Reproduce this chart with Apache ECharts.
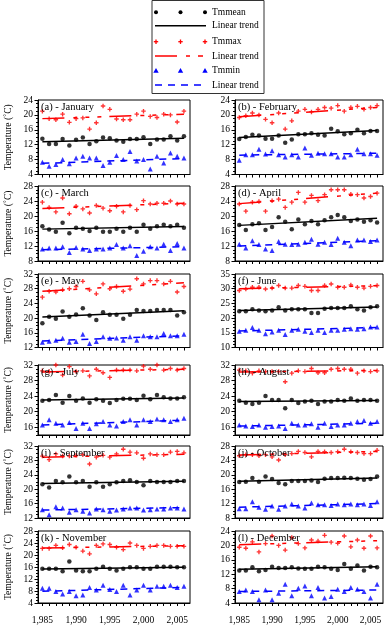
<!DOCTYPE html>
<html>
<head>
<meta charset="utf-8">
<title>Monthly temperature 1985-2006</title>
<script src="https://cdn.jsdelivr.net/npm/echarts@6/dist/echarts.min.js"></script>
<style>
html, body { margin: 0; padding: 0; background: #fff; }
#chart { width: 388px; height: 625px; }
</style>
</head>
<body>
<div id="chart"></div>
<script>
// years on the x axis
var years = [1985, 1986, 1987, 1988, 1989, 1990, 1991, 1992, 1993, 1994, 1995,
             1996, 1997, 1998, 1999, 2000, 2001, 2002, 2003, 2004, 2005, 2006];
var yearLabels = [1985, 1990, 1995, 2000, 2005];

// Tmmean / Tmmax / Tmmin per month (deg C)
var meanJan = [13.6,12.2,12.2,13.5,11.8,13.3,13.9,12.2,12.9,13.9,13.7,13.1,12.8,13.5,13.5,14.0,12.2,13.4,13.4,14.3,13.1,14.3];
var maxJan  = [21.0,19.0,18.7,20.2,18.0,19.0,19.2,16.2,17.9,22.4,21.5,18.9,18.7,18.7,20.2,21.0,19.6,19.3,20.2,20.0,18.1,21.0];
var minJan  = [7.3,6.2,6.7,8.0,6.9,8.4,8.9,8.4,8.4,6.4,7.3,9.1,8.0,10.2,7.6,8.0,5.5,8.9,7.1,9.8,8.9,8.4];

var meanFeb = [13.5,14.1,14.7,14.5,13.6,13.6,14.5,12.5,13.4,14.8,14.8,15.1,14.7,14.5,16.3,15.6,14.8,15.1,16.0,15.1,15.7,15.7];
var maxFeb  = [19.3,19.8,20.5,20.0,18.8,17.9,20.5,16.2,18.4,21.0,21.5,20.8,21.5,22.0,21.8,22.5,21.0,22.0,22.3,21.5,22.0,22.5];
var minFeb  = [7.8,9.3,9.3,10.8,9.5,10.4,9.3,8.7,9.3,8.7,11.1,9.2,9.7,9.6,9.6,8.7,8.7,9.3,10.8,9.6,9.6,9.2];

var meanMar = [17.3,16.4,15.8,18.2,15.4,16.9,16.6,16.0,16.9,15.8,15.8,16.6,15.8,16.9,15.8,17.7,16.6,17.3,17.7,17.3,17.7,16.9];
var maxMar  = [23.7,22.3,21.1,24.8,20.6,22.6,21.9,20.8,22.8,22.1,21.4,22.6,21.1,22.8,21.7,24.1,23.2,23.4,23.4,24.0,23.2,23.2];
var minMar  = [11.2,11.5,11.5,11.8,10.3,11.6,11.2,10.8,11.2,11.2,11.5,12.4,11.5,12.1,9.5,10.6,11.8,11.5,12.5,10.8,12.7,11.5];

var meanApr = [17.6,16.3,17.8,18.1,16.3,17.1,19.7,18.5,16.5,19.1,17.8,18.7,17.8,18.9,19.7,20.3,19.7,18.7,19.1,18.5,18.9,18.3];
var maxApr  = [23.2,21.3,23.7,23.9,21.3,24.1,24.5,22.3,23.7,26.3,23.7,25.5,24.1,25.7,27.0,27.0,27.0,25.8,25.7,24.8,25.2,26.1];
var minApr  = [12.5,11.5,13.4,12.4,11.2,10.8,13.2,12.5,12.4,12.5,13.0,13.8,12.5,13.0,12.4,14.1,13.0,12.1,13.6,13.6,13.2,13.6];

var meanMay = [18.6,20.4,19.8,21.8,20.4,21.0,22.7,20.7,19.5,21.6,20.9,20.9,19.8,20.9,22.2,21.9,21.9,22.2,22.2,22.2,20.7,21.6];
var maxMay  = [25.7,27.3,27.1,27.7,28.0,28.6,30.0,27.7,26.6,29.3,28.0,28.6,27.3,27.9,30.7,29.3,30.2,30.2,29.3,30.0,27.1,28.6];
var minMay  = [13.4,13.7,14.0,14.5,13.4,13.6,15.6,13.1,13.6,14.9,14.5,14.6,14.0,14.9,14.0,15.2,14.9,14.9,15.8,15.2,15.2,15.6];

var meanJun = [22.3,22.3,23.0,22.6,22.3,22.6,23.7,22.6,23.0,23.0,23.0,21.7,21.7,23.2,23.4,23.4,23.4,24.0,23.0,22.6,23.7,24.0];
var maxJun  = [29.4,29.9,30.5,30.5,29.9,30.2,31.1,30.2,30.2,31.1,30.8,29.4,29.4,31.1,31.6,30.5,30.5,31.3,30.5,30.2,30.8,31.1];
var minJun  = [15.5,15.9,16.8,15.9,14.7,15.3,15.9,14.4,15.9,16.2,15.5,15.1,15.9,15.1,15.9,15.9,16.2,16.4,16.2,16.4,17.0,17.0];

var meanJul = [22.8,23.0,24.3,22.3,24.0,22.8,23.4,22.3,23.2,22.8,22.2,23.0,23.3,23.3,23.0,24.1,23.2,24.3,23.7,23.4,23.4,23.7];
var maxJul  = [30.5,30.3,32.0,29.4,31.6,30.3,30.5,29.2,30.9,30.0,28.8,30.7,30.7,30.7,30.5,31.7,30.9,32.0,30.7,31.1,30.7,31.1];
var minJul  = [16.6,17.9,17.0,16.6,17.2,15.7,17.0,15.7,16.9,17.5,16.6,16.3,17.5,17.9,16.6,17.9,17.5,18.1,17.9,17.5,17.9,18.3];

var meanAug = [22.8,22.3,22.0,22.3,24.0,23.0,23.0,20.9,23.0,22.2,22.6,22.8,22.0,22.6,22.6,23.0,22.8,23.4,22.8,23.0,23.0,22.8];
var maxAug  = [30.7,30.5,29.9,30.5,30.3,30.3,30.3,27.7,29.9,30.5,30.3,31.1,30.0,30.0,30.9,31.1,30.9,30.9,29.9,30.5,30.3,30.5];
var minAug  = [16.6,16.3,16.2,16.6,16.0,16.2,16.3,15.7,17.0,16.6,16.6,16.9,16.0,17.0,16.2,16.6,16.6,17.0,17.5,17.7,17.0,17.5];

var meanSep = [21.4,20.5,22.3,21.9,23.5,21.9,22.3,20.7,21.9,20.7,21.4,21.9,22.3,22.5,22.0,21.1,22.3,22.0,22.0,22.0,22.3,22.3];
var maxSep  = [29.2,28.2,29.8,29.2,29.2,29.4,29.6,27.0,28.9,29.4,28.9,29.8,31.1,30.3,30.1,28.6,29.8,29.6,29.6,30.3,30.5,30.1];
var minSep  = [14.3,12.9,15.1,14.8,13.6,14.3,13.9,13.4,14.5,14.3,13.9,14.2,14.5,14.8,14.8,14.2,14.3,14.5,14.5,14.8,14.8,14.5];

var meanOct = [18.0,18.1,19.1,18.1,19.5,18.8,17.7,17.4,18.3,18.3,18.3,18.4,18.0,18.9,19.1,19.1,19.2,19.1,18.9,18.6,18.8,19.5];
var maxOct  = [25.3,25.6,25.6,25.3,25.6,25.0,24.1,25.6,25.9,26.5,26.2,25.0,26.5,26.4,26.2,26.4,27.1,26.4,26.2,25.9,25.9,26.8];
var minOct  = [10.6,10.6,12.5,11.0,10.4,11.3,10.4,11.3,11.9,11.3,10.8,12.2,11.7,11.7,11.5,11.9,11.7,11.9,11.7,11.9,11.5,12.5];

var meanNov = [15.4,15.4,15.4,14.6,17.8,14.8,14.6,14.6,15.4,16.1,15.4,14.8,15.4,15.9,15.9,15.4,15.4,16.1,16.1,16.1,15.9,15.9];
var maxNov  = [22.2,22.2,23.2,22.4,23.5,22.6,21.3,20.4,23.2,23.7,23.5,22.6,21.8,24.0,23.2,22.2,22.9,23.2,23.2,22.9,22.9,22.9];
var minNov  = [8.9,8.9,7.8,7.0,7.8,6.4,6.7,9.2,8.3,9.9,8.5,7.8,9.9,6.7,8.3,9.9,8.3,9.6,9.6,9.9,9.2,9.6];

var meanDec = [13.0,13.0,13.9,12.8,13.2,14.1,13.7,13.7,13.9,13.6,13.5,13.5,14.1,13.9,13.5,13.2,14.8,13.5,14.4,13.0,14.1,13.9];
var maxDec  = [19.5,19.2,21.0,18.2,20.5,22.6,20.0,18.7,22.2,20.5,19.3,21.5,21.2,22.8,20.9,20.6,22.6,19.6,21.5,19.2,22.6,19.3];
var minDec  = [7.2,7.6,7.2,4.9,7.6,4.9,6.7,9.2,6.0,8.1,8.7,6.0,8.3,5.4,5.8,7.8,7.2,8.3,7.8,7.2,5.4,9.2];

// linear trend read at 1985 and 2006: mean, max, min
var trendJan = [12.8, 13.7, 19.0, 20.2, 7.0, 8.3];
var trendFeb = [13.9, 15.8, 19.5, 22.0, 9.2, 9.7];
var trendMar = [16.5, 17.2, 22.0, 23.4, 11.0, 11.8];
var trendApr = [17.5, 19.4, 23.3, 26.1, 12.0, 13.4];
var trendMay = [20.3, 22.0, 27.3, 29.6, 13.8, 15.2];
var trendJun = [22.6, 23.8, 30.0, 31.0, 15.6, 16.8];
var trendJul = [23.0, 23.5, 30.2, 30.9, 16.6, 17.8];
var trendAug = [22.6, 22.9, 30.2, 30.6, 16.3, 17.0];
var trendSep = [21.6, 22.2, 28.9, 29.7, 14.2, 14.9];
var trendOct = [18.2, 19.1, 25.5, 26.5, 11.0, 12.0];
var trendNov = [15.3, 15.9, 22.3, 23.1, 7.9, 9.2];
var trendDec = [13.4, 14.1, 20.2, 21.3, 7.2, 7.6];

var panelNames = ['(a) - January', '(b) - February', '(c) - March', '(d) - April',
                  '(e) - May', '(f) - June', '(g) - July', '(h) - August',
                  '(i) - September', '(j) - October', '(k) - November', '(l) - December'];

// y axis range and labelled ticks of each panel
var yMin = [4, 4, 8, 8, 12, 10, 14, 14, 12, 8, 4, 4];
var yMax = [24, 24, 28, 28, 32, 35, 32, 32, 32, 28, 28, 24];
var yLabels = [
    [4, 8, 12, 16, 20, 24], [4, 8, 12, 16, 20, 24],
    [8, 12, 16, 20, 24, 28], [8, 12, 16, 20, 24, 28],
    [12, 16, 20, 24, 28, 32], [10, 15, 20, 25, 30, 35],
    [16, 20, 24, 28, 32], [16, 20, 24, 28, 32],
    [12, 16, 20, 24, 28, 32], [8, 12, 16, 20, 24, 28],
    [4, 8, 12, 16, 20, 24, 28], [4, 8, 12, 16, 20, 24]
];

var monthMean = [meanJan, meanFeb, meanMar, meanApr, meanMay, meanJun, meanJul, meanAug, meanSep, meanOct, meanNov, meanDec];
var monthMax = [maxJan, maxFeb, maxMar, maxApr, maxMay, maxJun, maxJul, maxAug, maxSep, maxOct, maxNov, maxDec];
var monthMin = [minJan, minFeb, minMar, minApr, minMay, minJun, minJul, minAug, minSep, minOct, minNov, minDec];
var monthTrend = [trendJan, trendFeb, trendMar, trendApr, trendMay, trendJun, trendJul, trendAug, trendSep, trendOct, trendNov, trendDec];

// layout
var colLeft = [38, 235];
var colWidth = [152, 148];
var rowTop = [100, 186, 274, 365, 446, 531];
var rowHeight = [74.5, 75, 73.5, 70, 72, 74];

var FONT = "'Liberation Serif', 'DejaVu Serif', serif";
var RED = '#ff0000';
var BLUE = '#0000ff';
var PLUS = 'path://M-0.3,-1H0.3V-0.3H1V0.3H0.3V1H-0.3V0.3H-1V-0.3H-0.3Z';

function pairs(vals) {
    var out = [];
    for (var k = 0; k < years.length; k++) out.push([years[k], vals[k]]);
    return out;
}

function integerTicks(lo, hi) {
    var out = [];
    for (var v = lo; v <= hi; v++) out.push(v);
    return out;
}

var option = {
    animation: false,
    backgroundColor: '#fff',
    title: [],
    grid: [],
    xAxis: [],
    yAxis: [],
    series: []
};

for (var i = 0; i < 12; i++) {
    var row = Math.floor(i / 2), col = i % 2;
    var t = monthTrend[i];

    option.grid.push({
        left: colLeft[col], top: rowTop[row], width: colWidth[col], height: rowHeight[row],
        show: true, borderColor: '#000', borderWidth: 1
    });
    option.title.push({
        text: panelNames[i], left: colLeft[col] + 3, top: rowTop[row] + 2, padding: 0,
        textStyle: { fontFamily: FONT, fontSize: 10.5, fontWeight: 'normal', color: '#000' }
    });
    option.xAxis.push({
        type: 'value', gridIndex: i, min: 1984.35, max: 2006.9,
        axisLine: { lineStyle: { color: '#000', width: 1 } },
        axisTick: { customValues: years, length: 3, lineStyle: { color: '#000' } },
        axisLabel: { show: row === 5, customValues: yearLabels, margin: 12,
                     fontFamily: FONT, fontSize: 9.5, color: '#000' },
        splitLine: { show: false }
    });
    // main y axis: labels and major ticks
    option.yAxis.push({
        type: 'value', gridIndex: i, position: 'left', min: yMin[i], max: yMax[i],
        name: col === 0 ? 'Temperature (˚C)' : '', nameLocation: 'middle', nameGap: 25,
        nameTextStyle: { fontFamily: FONT, fontSize: 9.5, color: '#000' },
        axisLine: { show: true, lineStyle: { color: '#000', width: 1 } },
        axisTick: { customValues: yLabels[i], length: 3.5, lineStyle: { color: '#000' } },
        axisLabel: { customValues: yLabels[i], margin: 5, fontFamily: FONT, fontSize: 9.5, color: '#000' },
        splitLine: { show: false }
    });
    // second y axis only for the 1 degree minor ticks
    option.yAxis.push({
        type: 'value', gridIndex: i, position: 'left', min: yMin[i], max: yMax[i],
        axisLine: { show: false },
        axisTick: { customValues: integerTicks(yMin[i], yMax[i]), length: 2, lineStyle: { color: '#000' } },
        axisLabel: { show: false },
        splitLine: { show: false }
    });

    var ax = { xAxisIndex: i, yAxisIndex: 2 * i };
    option.series.push(Object.assign({
        name: 'Tmmean', type: 'scatter', data: pairs(monthMean[i]),
        symbol: 'circle', symbolSize: 4.5, itemStyle: { color: '#000' }, z: 3
    }, ax));
    option.series.push(Object.assign({
        name: 'Tmmax', type: 'scatter', data: pairs(monthMax[i]),
        symbol: PLUS, symbolSize: 4.5, itemStyle: { color: RED }, z: 3
    }, ax));
    option.series.push(Object.assign({
        name: 'Tmmin', type: 'scatter', data: pairs(monthMin[i]),
        symbol: 'triangle', symbolSize: 5, itemStyle: { color: BLUE }, z: 3
    }, ax));
    option.series.push(Object.assign({
        name: 'Linear trend', type: 'line', data: [[years[0], t[0]], [years[21], t[1]]],
        symbol: 'none', lineStyle: { color: '#000', width: 1.5, type: 'solid' }, z: 4
    }, ax));
    option.series.push(Object.assign({
        name: 'Linear trend', type: 'line', data: [[years[0], t[2]], [years[21], t[3]]],
        symbol: 'none', lineStyle: { color: RED, width: 1.5, type: [22, 9, 4, 8, 4, 8, 4, 8] }, z: 4
    }, ax));
    option.series.push(Object.assign({
        name: 'Linear trend', type: 'line', data: [[years[0], t[4]], [years[21], t[5]]],
        symbol: 'none', lineStyle: { color: BLUE, width: 1.5, type: [7, 6] }, z: 4
    }, ax));
}

// legend box at the top, drawn by hand (three markers per row)
var legendRows = [12.3, 25.7, 41.7, 56, 70.7, 85];
var legendTexts = ['Tmmean', 'Linear trend', 'Tmmax', 'Linear trend', 'Tmmin', 'Linear trend'];
var markX = [156, 180.5, 205];
var g = [{
    type: 'rect', shape: { x: 152, y: 0.5, width: 112, height: 93 },
    style: { fill: '#fff', stroke: '#333', lineWidth: 1 }, z: 10
}];
markX.forEach(function (mx) {
    g.push({ type: 'circle', shape: { cx: mx, cy: legendRows[0], r: 2 }, style: { fill: '#000' }, z: 11 });
    g.push({ type: 'line', shape: { x1: mx - 2.2, y1: legendRows[2], x2: mx + 2.2, y2: legendRows[2] }, style: { stroke: RED, lineWidth: 1.3 }, z: 11 });
    g.push({ type: 'line', shape: { x1: mx, y1: legendRows[2] - 2.2, x2: mx, y2: legendRows[2] + 2.2 }, style: { stroke: RED, lineWidth: 1.3 }, z: 11 });
    g.push({ type: 'polygon', shape: { points: [[mx, legendRows[4] - 2.8], [mx - 2.7, legendRows[4] + 2], [mx + 2.7, legendRows[4] + 2]] }, style: { fill: BLUE }, z: 11 });
});
g.push({ type: 'line', shape: { x1: 155, y1: legendRows[1], x2: 206, y2: legendRows[1] }, style: { stroke: '#000', lineWidth: 1.5 }, z: 11 });
g.push({ type: 'line', shape: { x1: 155, y1: legendRows[3], x2: 206, y2: legendRows[3] }, style: { stroke: RED, lineWidth: 1.5, lineDash: [22, 9, 4, 8, 5, 8] }, z: 11 });
g.push({ type: 'line', shape: { x1: 155, y1: legendRows[5], x2: 206, y2: legendRows[5] }, style: { stroke: BLUE, lineWidth: 1.5, lineDash: [7, 6] }, z: 11 });
legendTexts.forEach(function (txt, k) {
    g.push({ type: 'text', x: 212, y: legendRows[k], z: 11,
             style: { text: txt, fontFamily: FONT, fontSize: 9.5, fill: '#000', verticalAlign: 'middle' } });
});
option.graphic = g;

var chart = echarts.init(document.getElementById('chart'), null, { renderer: 'canvas' });
chart.setOption(option);
</script>
</body>
</html>
